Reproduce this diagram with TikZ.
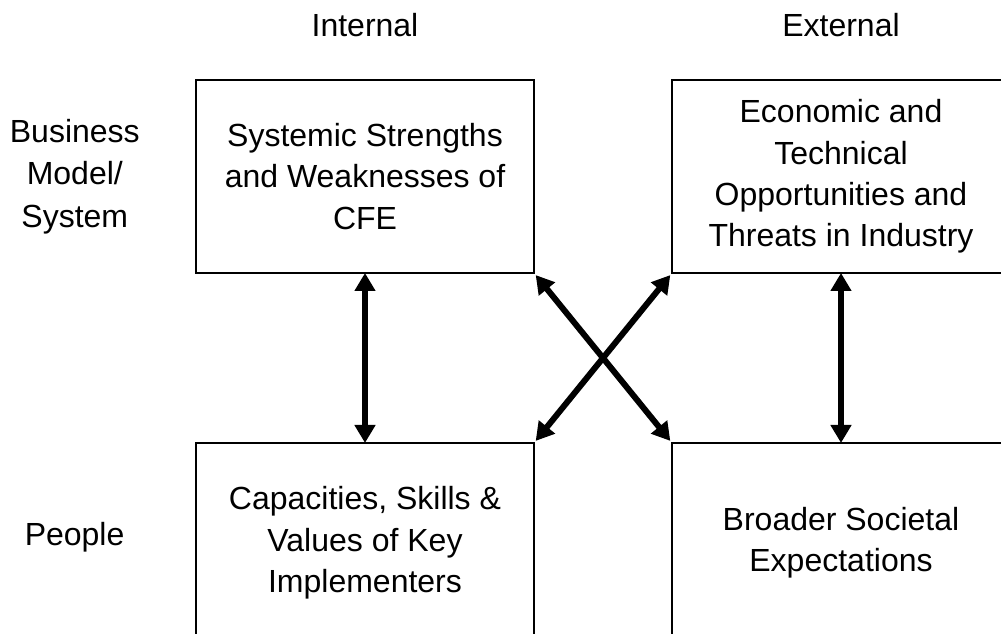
\documentclass[tikz,border=0pt]{standalone}
\usepackage{fontspec}
\setmainfont{Liberation Sans}
\usetikzlibrary{
  arrows.meta,
  positioning,
}
\tikzset{
  x = 0.75pt,
  y = 0.75pt,
  n/.style={
    draw, line width=1.5pt, minimum width=253.5pt, minimum height=144.75pt,
    inner sep=0pt, outer sep=0pt, align=center,
    font=\fontsize{24}{31}\selectfont,
  },
  >={Triangle[length=13.5pt, width=15pt]},
}

\begin{document}
\begin{tikzpicture}[
  lbl/.style={inner sep=0pt, align=center, font=\fontsize{24}{32}\selectfont},
  link/.style={<->, line width=4.5pt},]
  \useasboundingbox (0,0) rectangle (1001,634);
  %%
  \node[n](Sys) at (365,457.5)
  {Systemic Strengths\\and Weaknesses of\\CFE};
  \node[n, right=103.5pt of Sys](Econ)
  {Economic and\\Technical\\Opportunities and\\Threats in Industry};
  \node[n, below=127.5pt of Sys.south west, anchor=north west,
  minimum height=150pt]
  (Cap){Capacities, Skills \&\\Values of Key\\Implementers};
  \node[n, below=127.5pt of Econ.south west, anchor=north west,
  minimum height=150pt]
  (Soc){Broader Societal\\Expectations};
  %%
  \node[lbl, above=32.25pt of Sys](Int){Internal};
  \node[lbl, above=32.25pt of Econ](Ext){External};
  \node[lbl, left=42pt of Sys](Bus){Business\\Model/\\System};
  \node[lbl, left=53.5pt of Cap, yshift=4.5pt](Ppl){People};
  %%
  \draw[link](Sys) -- (Cap);
  \draw[link](Econ) -- (Soc);
  \draw[link, shorten <=2pt, shorten >=2pt](Sys.south east) -- (Soc.north west);
  \draw[link, shorten <=2pt, shorten >=2pt](Econ.south west) -- (Cap.north east);
\end{tikzpicture}
\end{document}
